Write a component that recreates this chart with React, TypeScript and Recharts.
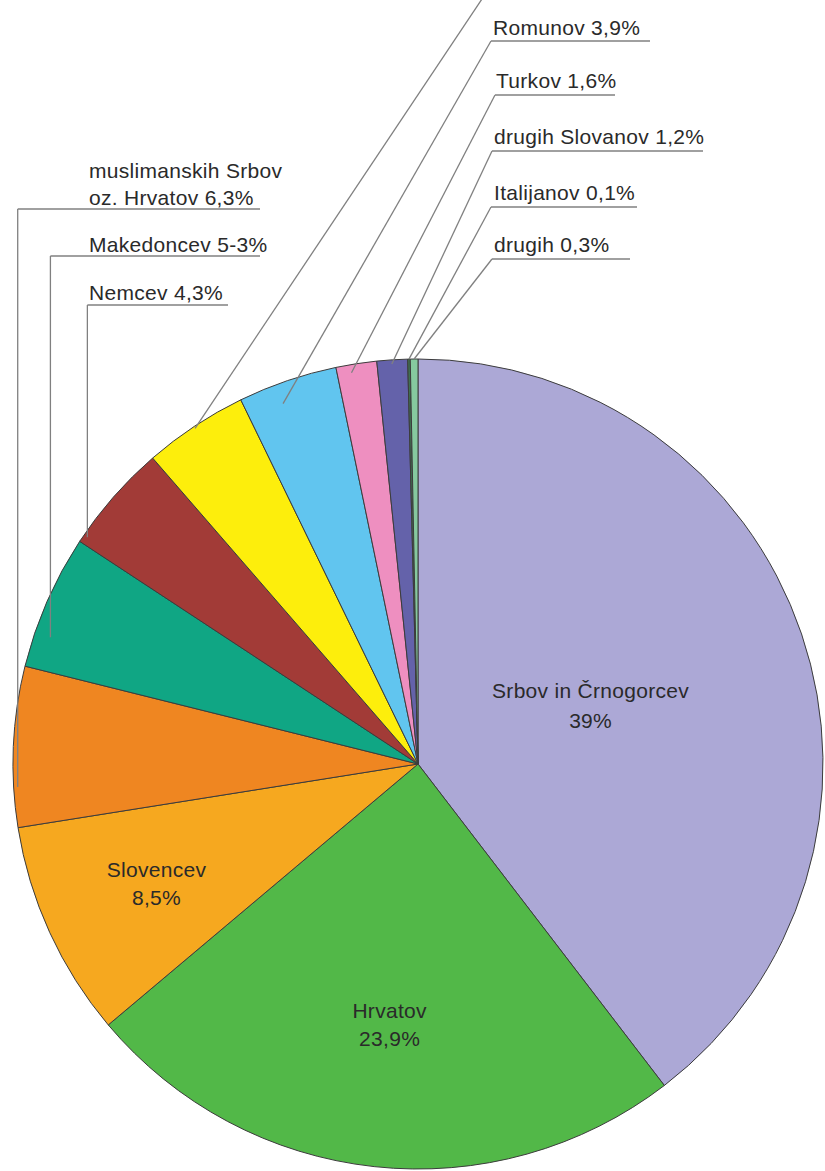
import React from "react";
import { PieChart, Pie, Cell } from "recharts";

// population shares, clockwise from 12 o'clock
const groups = [
  "Srbov in Črnogorcev",
  "Hrvatov",
  "Slovencev",
  "muslimanskih Srbov oz. Hrvatov",
  "Makedoncev",
  "Nemcev",
  "ostalih",
  "Romunov",
  "Turkov",
  "drugih Slovanov",
  "Italijanov",
  "drugih",
];
const shares = [39, 23.9, 8.5, 6.3, 5.3, 4.3, 4.1, 3.9, 1.6, 1.2, 0.1, 0.3];
const labelText = [
  ["Srbov in Črnogorcev", "39%"],
  ["Hrvatov", "23,9%"],
  ["Slovencev", "8,5%"],
  ["muslimanskih Srbov", "oz. Hrvatov 6,3%"],
  ["Makedoncev 5-3%"],
  ["Nemcev 4,3%"],
  [],
  ["Romunov 3,9%"],
  ["Turkov 1,6%"],
  ["drugih Slovanov 1,2%"],
  ["Italijanov 0,1%"],
  ["drugih 0,3%"],
];
const colors = [
  "#aca8d6",
  "#52b848",
  "#f6a81f",
  "#ef8621",
  "#10a684",
  "#a23b37",
  "#fdee0c",
  "#61c5ef",
  "#ee8fc0",
  "#6462aa",
  "#3f6f50",
  "#86c99f",
];

const data = groups.map((name, i) => ({ name, value: shares[i] }));

// label placement: inner labels sit on the mid angle, outer ones hang on a leader line
type Layout =
  | { kind: "inner"; rf: number; gap: number }
  | { kind: "left"; f: number; rf: number; textX: number; baselines: number[]; ruleY: number; ruleEnd: number }
  | { kind: "right"; f: number; rf: number; textX: number; baselines: number[]; ruleY: number; ruleStart: number; ruleEnd: number };

const layout: Layout[] = [
  { kind: "inner", rf: 0.45, gap: 15 },
  { kind: "inner", rf: 0.647, gap: 14 },
  { kind: "inner", rf: 0.71, gap: 14 },
  { kind: "left", f: 0.25, rf: 0.99, textX: 89, baselines: [178, 205], ruleY: 209, ruleEnd: 260 },
  { kind: "left", f: 0.26, rf: 0.96, textX: 89, baselines: [252], ruleY: 256, ruleEnd: 260 },
  { kind: "left", f: 0.07, rf: 0.99, textX: 89, baselines: [300], ruleY: 305, ruleEnd: 228 },
  { kind: "right", f: 0.49, rf: 0.995, textX: 492, baselines: [], ruleY: -13, ruleStart: 490, ruleEnd: 640 },
  { kind: "right", f: 0.38, rf: 0.95, textX: 493, baselines: [35], ruleY: 41, ruleStart: 491, ruleEnd: 650 },
  { kind: "right", f: 0.35, rf: 0.98, textX: 496, baselines: [88], ruleY: 95, ruleStart: 495, ruleEnd: 615 },
  { kind: "right", f: 0.48, rf: 0.99, textX: 494, baselines: [144], ruleY: 151, ruleStart: 492, ruleEnd: 703 },
  { kind: "right", f: 0.5, rf: 1.0, textX: 494, baselines: [200], ruleY: 207, ruleStart: 491, ruleEnd: 637 },
  { kind: "right", f: 0.5, rf: 1.0, textX: 494, baselines: [252], ruleY: 259, ruleStart: 492, ruleEnd: 630 },
];

const RAD = Math.PI / 180;
const textStyle = {
  fontFamily: "'Liberation Sans', Arial, sans-serif",
  fontSize: 21,
  fill: "#2a2a2a",
  letterSpacing: 0.3,
};
const lineColor = "#808080";

function renderLabel(props: any) {
  const { cx, cy, outerRadius, midAngle, startAngle, endAngle, index } = props;
  const lay = layout[index];
  const lines = labelText[index];
  if (!lay) return null;

  if (lay.kind === "inner") {
    const x = cx + outerRadius * lay.rf * Math.cos(midAngle * RAD);
    const y = cy - outerRadius * lay.rf * Math.sin(midAngle * RAD);
    return (
      <g key={`lbl-${index}`}>
        {lines.map((t, k) => (
          <text
            key={k}
            x={x}
            y={y + (k - (lines.length - 1) / 2) * lay.gap * 2}
            textAnchor="middle"
            dominantBaseline="central"
            style={textStyle}
          >
            {t}
          </text>
        ))}
      </g>
    );
  }

  const a = startAngle + (endAngle - startAngle) * lay.f;
  const px = cx + outerRadius * lay.rf * Math.cos(a * RAD);
  const py = cy - outerRadius * lay.rf * Math.sin(a * RAD);

  if (lay.kind === "left") {
    return (
      <g key={`lbl-${index}`}>
        <line x1={px} y1={py} x2={px} y2={lay.ruleY} stroke={lineColor} strokeWidth={1.3} />
        <line x1={px} y1={lay.ruleY} x2={lay.ruleEnd} y2={lay.ruleY} stroke={lineColor} strokeWidth={1.3} />
        {lines.map((t, k) => (
          <text key={k} x={lay.textX} y={lay.baselines[k]} style={textStyle}>
            {t}
          </text>
        ))}
      </g>
    );
  }

  return (
    <g key={`lbl-${index}`}>
      <line x1={px} y1={py} x2={lay.ruleStart} y2={lay.ruleY} stroke={lineColor} strokeWidth={1.3} />
      <line x1={lay.ruleStart} y1={lay.ruleY} x2={lay.ruleEnd} y2={lay.ruleY} stroke={lineColor} strokeWidth={1.3} />
      {lines.map((t, k) => (
        <text key={k} x={lay.textX} y={lay.baselines[k]} style={textStyle}>
          {t}
        </text>
      ))}
    </g>
  );
}

export default function App() {
  return (
    <div style={{ position: "absolute", left: 0, top: 0, background: "#fff" }}>
      <PieChart width={825} height={1171} margin={{ top: 0, right: 0, bottom: 0, left: 0 }}>
        <Pie
          data={data}
          dataKey="value"
          nameKey="name"
          cx={418}
          cy={764}
          outerRadius={405}
          startAngle={90}
          endAngle={-270}
          stroke="#3c3c3c"
          strokeWidth={1}
          label={renderLabel}
          labelLine={false}
          isAnimationActive={false}
        >
          {data.map((d, i) => (
            <Cell key={d.name} fill={colors[i]} />
          ))}
        </Pie>
      </PieChart>
    </div>
  );
}
